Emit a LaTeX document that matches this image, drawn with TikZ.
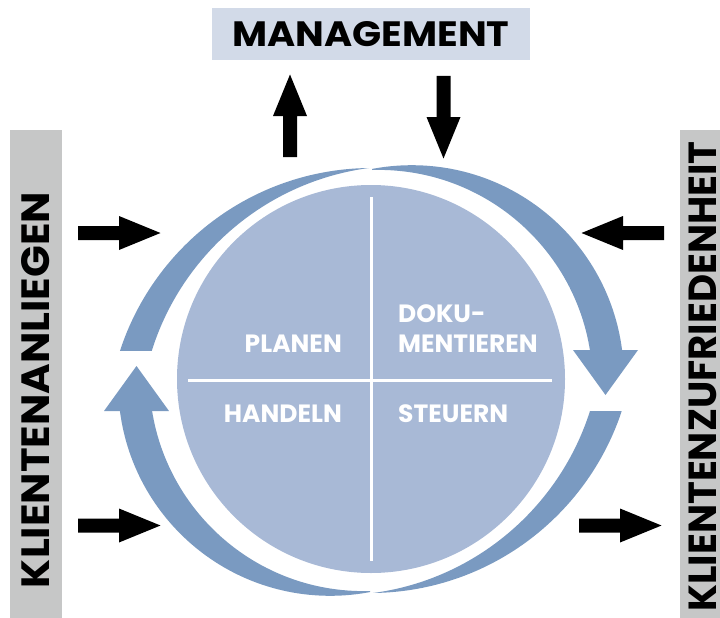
\documentclass[tikz,border=0pt]{standalone}
\usepackage{fontspec}
\newfontfamily\popfont{Poppins}
\definecolor{ringblue}{HTML}{7A9AC1}
\definecolor{discblue}{HTML}{A8B9D6}
\definecolor{mgmtbg}{HTML}{D2DAE8}
\definecolor{bargray}{HTML}{C6C7C7}
\begin{document}
\begin{tikzpicture}[x=1pt,y=-1pt,
  blockarrow/.pic={\fill[black] (0,-7) -- (41,-7) -- (41,-17) -- (82.5,0) -- (41,17) -- (41,7) -- (0,7) -- cycle;},
  ringpart/.style={fill=ringblue},
  divider/.style={white, line width=3pt},
  quadlabel/.style={text=white, font=\popfont\bfseries\fontsize{25}{25}\selectfont, inner sep=0pt},
  heading/.style={font=\popfont\bfseries\fontsize{36}{36}\selectfont, inner sep=0pt},
  sidebar/.style={fill=bargray, inner sep=0pt},
]
\useasboundingbox (0,0) rectangle (720,618);

% side bars and header
\node[sidebar, minimum width=52pt, minimum height=488pt] (leftbar) at (36,374) {};
\node[sidebar, minimum width=44pt, minimum height=488pt] (rightbar) at (702,374) {};
\node[heading, rotate=90] (lefttext) at (36,390) {\resizebox{396pt}{28pt}{KLIENTENANLIEGEN}};
\node[heading, rotate=90] (righttext) at (702.5,376.5) {\resizebox{470pt}{27.5pt}{KLIENTENZUFRIEDENHEIT}};
\node[fill=mgmtbg, minimum width=318pt, minimum height=52pt, inner sep=0pt] (mgmtbox) at (371,34) {};
\node[heading] (mgmt) at (371,34.5) {\resizebox{277pt}{25pt}{MANAGEMENT}};

% ring (left half, then rotated copy)
\foreach \ang in {0,180}{
\begin{scope}[rotate around={\ang:(371,380.5)}]
  \begin{scope}
    \clip (372,433) circle[radius=265];
    \clip (0,0) rectangle (370,350);
    \fill[ringpart, even odd rule] (-100,-100) rectangle (900,900) (404,430) circle[radius=264.3];
  \end{scope}
  \begin{scope}
    \clip (330.2,383.8) circle[radius=212];
    \clip (0,411) rectangle (370,618);
    \fill[ringpart, even odd rule] (-100,-100) rectangle (900,900) (363.6,376.9) circle[radius=214.2];
  \end{scope}
  \fill[ringpart] (136.5,366) -- (169,411) -- (104,411) -- cycle;
\end{scope}
}

% disc
\node[circle, fill=discblue, minimum size=388pt, inner sep=0pt] (disc) at (371,379) {};
\draw[divider] (371,197) -- (371,561);
\draw[divider] (188,380) -- (552,380);

\node[quadlabel, anchor=base east] (planen) at (342,352) {PLANEN};
\node[quadlabel, anchor=base west] (doku) at (398,322) {DOKU-};
\node[quadlabel, anchor=base west] (mentieren) at (398,352) {MENTIEREN};
\node[quadlabel, anchor=base east] (handeln) at (342,422) {HANDELN};
\node[quadlabel, anchor=base west] (steuern) at (398,422) {STEUERN};

% black arrows
\pic[rotate=90] at (290,157) {blockarrow};
\pic[rotate=-90] at (443.5,76) {blockarrow};
\pic at (78,233) {blockarrow};
\pic[rotate=180] at (664,233) {blockarrow};
\pic at (78,525.5) {blockarrow};
\pic at (579,525.5) {blockarrow};
\end{tikzpicture}
\end{document}
